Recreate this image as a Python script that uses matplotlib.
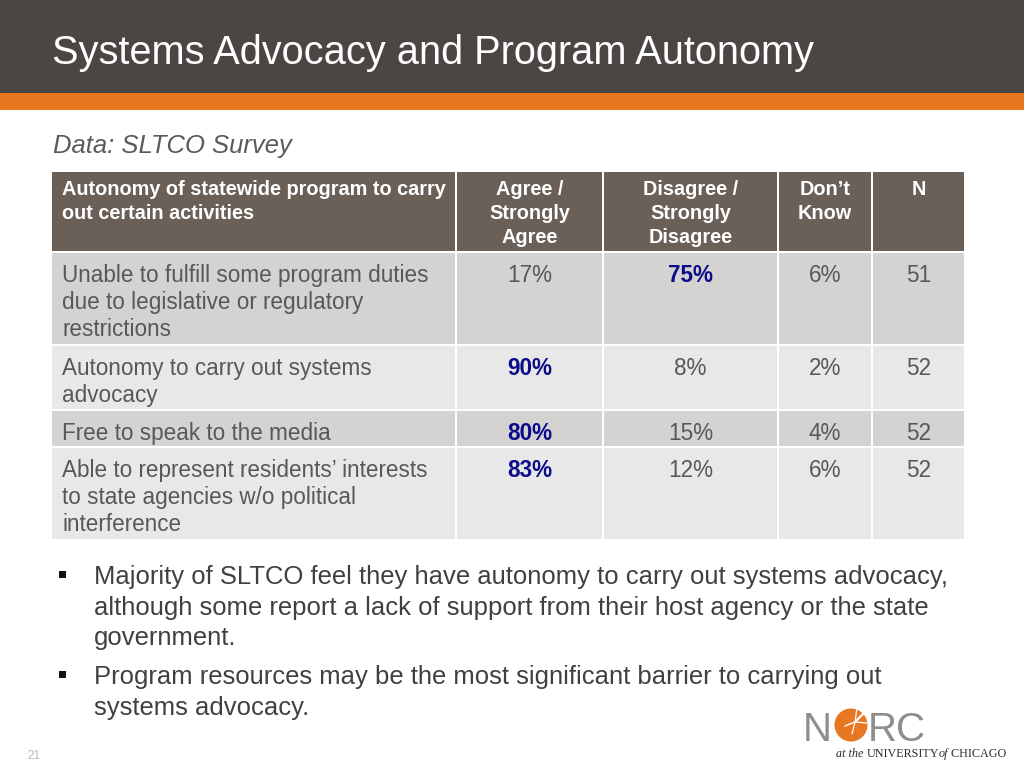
import matplotlib
matplotlib.use("Agg")
import matplotlib.pyplot as plt
from matplotlib.patches import Rectangle, Circle
from matplotlib import font_manager

# ---------------- data ----------------
title = "Systems Advocacy and Program Autonomy"
subtitle = "Data: SLTCO Survey"
header_cols = ["Autonomy of statewide program to carry\nout certain activities",
               "Agree /\nStrongly\nAgree",
               "Disagree /\nStrongly\nDisagree",
               "Don\u2019t\nKnow",
               "N"]
row_labels = ["Unable to fulfill some program duties\ndue to legislative or regulatory\nrestrictions",
              "Autonomy to carry out systems\nadvocacy",
              "Free to speak to the media",
              "Able to represent residents\u2019 interests\nto state agencies w/o political\ninterference"]
agree = [17, 90, 80, 83]
disagree = [75, 8, 15, 12]
dont_know = [6, 2, 4, 6]
n_resp = [51, 52, 52, 52]
# which value is highlighted per row (column index 1..)
highlight = [2, 1, 1, 1]
bullets = ["Majority of SLTCO feel they have autonomy to carry out systems advocacy,\nalthough some report a lack of support from their host agency or the state\ngovernment.",
           "Program resources may be the most significant barrier to carrying out\nsystems advocacy."]
page_number = "21"

# ---------------- style ----------------
DARK = "#4b4643"
ORANGE = "#e87722"
HEAD = "#6b6057"
ROW_DARK = "#d4d3d2"
ROW_LIGHT = "#e8e8e8"
BODY = "#585858"
BLUE = "#0c0c8a"
BULLET = "#404040"

avail = {f.name for f in font_manager.fontManager.ttflist}
SANS = "Liberation Sans" if "Liberation Sans" in avail else "DejaVu Sans"
SERIF = "Liberation Serif" if "Liberation Serif" in avail else "DejaVu Serif"

fig = plt.figure(figsize=(10.24, 7.68), dpi=100)
ax = fig.add_axes([0, 0, 1, 1])
ax.set_xlim(0, 1024)
ax.set_ylim(768, 0)
ax.axis("off")
renderer = fig.canvas.get_renderer()


def fit(s, width, **kw):
    t = ax.text(0, 0, s, fontsize=10, **kw)
    w = t.get_window_extent(renderer).width
    t.remove()
    return 10 * width / w


def width_of(s, fs, **kw):
    t = ax.text(0, 0, s, fontsize=fs, **kw)
    w = t.get_window_extent(renderer).width
    t.remove()
    return w

# header band
ax.add_patch(Rectangle((0, 0), 1024, 93, color=DARK, lw=0))
ax.add_patch(Rectangle((0, 93), 1024, 17, color=ORANGE, lw=0))
fs_title = fit(title, 766, family=SANS)
ax.text(52, 64, title, fontsize=fs_title, family=SANS, color="white", va="baseline")

fs_sub = fit(subtitle, 239, family=SANS, style="italic")
ax.text(53, 153, subtitle, fontsize=fs_sub, family=SANS, style="italic", color="#5a5a5a", va="baseline")

# table geometry
col_edges = [52, 455, 602, 777, 871, 964]
row_edges = [172, 251, 344, 409, 446, 539]
gap = 2

fs_head = fit("Autonomy of statewide program to carry", 382, family=SANS, weight="bold")
fs_body = fit("Unable to fulfill some program duties", 368, family=SANS)
head_lh = 24
body_lh = 27

# header row
for c in range(5):
    x0, x1 = col_edges[c], col_edges[c + 1]
    ax.add_patch(Rectangle((x0 + (gap if c else 0), row_edges[0]), x1 - x0 - (gap if c else 0),
                           row_edges[1] - row_edges[0], color=HEAD, lw=0))
    lines = header_cols[c].split("\n")
    for i, ln in enumerate(lines):
        y = 189 + i * head_lh + 6
        if c == 0:
            ax.text(62, y, ln, fontsize=fs_head, family=SANS, weight="bold", color="white", va="baseline")
        else:
            ax.text((x0 + x1) / 2 + 1, y, ln, fontsize=fs_head, family=SANS, weight="bold",
                    color="white", va="baseline", ha="center")

# body rows
cols_vals = [agree, disagree, dont_know, n_resp]
for r in range(4):
    y0 = row_edges[r + 1] + gap
    y1 = row_edges[r + 2]
    fc = ROW_DARK if r % 2 == 0 else ROW_LIGHT
    for c in range(5):
        x0, x1 = col_edges[c], col_edges[c + 1]
        ax.add_patch(Rectangle((x0 + (gap if c else 0), y0), x1 - x0 - (gap if c else 0),
                               y1 - y0, color=fc, lw=0))
    first = y0 + 21 + 8
    for i, ln in enumerate(row_labels[r].split("\n")):
        ax.text(62, first + i * body_lh, ln, fontsize=fs_body, family=SANS, color=BODY, va="baseline")
    for c in range(1, 5):
        v = cols_vals[c - 1][r]
        s = f"{v}" if c == 4 else f"{v}%"
        xc = (col_edges[c] + col_edges[c + 1]) / 2 + 1
        if highlight[r] == c:
            ax.text(xc, first, s, fontsize=fs_body, family=SANS, weight="bold", color=BLUE,
                    va="baseline", ha="center")
        else:
            ax.text(xc, first, s, fontsize=fs_body, family=SANS, color=BODY,
                    va="baseline", ha="center")

# bullets
fs_bul = fit("Majority of SLTCO feel they have autonomy to carry out systems advocacy,", 854, family=SANS)
bullet_first = [575, 675]
for b, txt in enumerate(bullets):
    yc = bullet_first[b]
    ax.add_patch(Rectangle((59, yc - 4), 7, 7, color="#111111", lw=0))
    for i, ln in enumerate(txt.split("\n")):
        ax.text(94, yc + 9 + i * 30.5, ln, fontsize=fs_bul, family=SANS, color=BULLET, va="baseline")

# page number
ax.text(27, 759, page_number, fontsize=8.5, family=SANS, color="#b8b8b8", va="baseline")

# logo
LOGO_GREY = "#8e8e8e"
fs_logo = fit("N", 29, family=SANS)
ax.text(803, 741, "N", fontsize=fs_logo, family=SANS, color=LOGO_GREY, va="baseline")
ax.add_patch(Circle((851, 725), 16.5, color=ORANGE, lw=0))
for dx, dy, lw in [(9, -9, 1.6), (-10, 4, 1.0), (2, -14, 0.9), (12, 1, 0.9), (-3, 12, 0.9)]:
    ax.plot([855, 855 + dx], [722, 722 + dy], color="white", lw=lw, solid_capstyle="round")
ax.text(868, 741, "RC", fontsize=fs_logo, family=SANS, color=LOGO_GREY, va="baseline")

pieces = [("at the ", "italic"), ("UNIVERSITY", "normal"), ("of", "italic"), (" CHICAGO", "normal")]
total = sum(width_of(p, 10, family=SERIF, style=st) for p, st in pieces)
fs_uc = 10 * 172 / total
x = 836
for p, st in pieces:
    ax.text(x, 757, p, fontsize=fs_uc, family=SERIF, style=st, color="#2b2b2b", va="baseline")
    x += width_of(p, fs_uc, family=SERIF, style=st)

fig.savefig("out.png", dpi=100)
